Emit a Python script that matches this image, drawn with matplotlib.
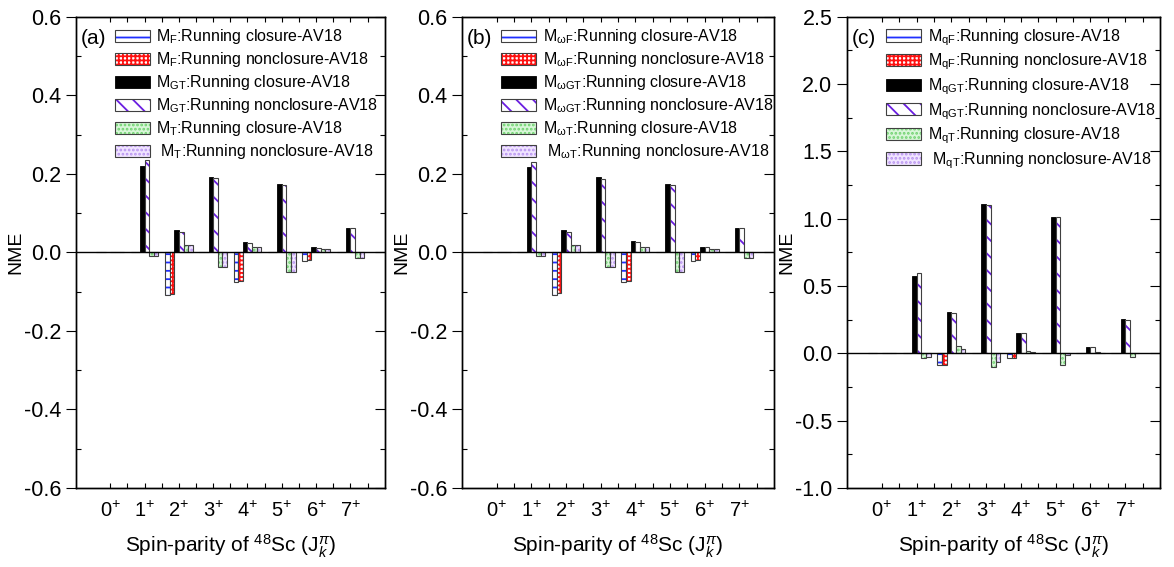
import numpy as np
import matplotlib
matplotlib.use("Agg")
import matplotlib.pyplot as plt
from matplotlib.patches import Patch
from matplotlib.ticker import MultipleLocator, FormatStrFormatter

plt.rcParams["font.family"] = ["Liberation Sans", "DejaVu Sans"]
plt.rcParams["mathtext.fontset"] = "custom"
plt.rcParams["mathtext.rm"] = "Liberation Sans"
plt.rcParams["mathtext.it"] = "Liberation Sans:italic"
plt.rcParams["mathtext.bf"] = "Liberation Sans:bold"
plt.rcParams["axes.unicode_minus"] = False
plt.rcParams["hatch.linewidth"] = 1.3

spins = ["0", "1", "2", "3", "4", "5", "6", "7"]

# panel (a): M_F, M_GT, M_T  (closure / nonclosure)
a_F_cl = [0, 0, -0.109, 0, -0.075, 0, -0.022, 0]
a_F_ncl = [0, 0, -0.105, 0, -0.074, 0, -0.019, 0]
a_GT_cl = [0, 0.221, 0.056, 0.193, 0.027, 0.174, 0.013, 0.061]
a_GT_ncl = [0, 0.235, 0.053, 0.189, 0.025, 0.172, 0.012, 0.061]
a_T_cl = [0, -0.010, 0.020, -0.037, 0.014, -0.049, 0.009, -0.015]
a_T_ncl = [0, -0.009, 0.020, -0.037, 0.014, -0.049, 0.008, -0.015]

# panel (b): M_wF, M_wGT, M_wT
b_F_cl = [0, 0, -0.109, 0, -0.075, 0, -0.021, 0]
b_F_ncl = [0, 0, -0.104, 0, -0.074, 0, -0.020, 0]
b_GT_cl = [0, 0.217, 0.056, 0.192, 0.028, 0.174, 0.014, 0.062]
b_GT_ncl = [0, 0.231, 0.051, 0.188, 0.026, 0.171, 0.013, 0.061]
b_T_cl = [0, -0.010, 0.020, -0.038, 0.015, -0.049, 0.010, -0.015]
b_T_ncl = [0, -0.008, 0.020, -0.038, 0.015, -0.049, 0.009, -0.015]

# panel (c): M_qF, M_qGT, M_qT
c_F_cl = [0, 0, -0.084, 0, -0.037, 0, 0, 0]
c_F_ncl = [0, 0, -0.084, 0, -0.037, 0, 0, 0]
c_GT_cl = [0, 0.577, 0.305, 1.111, 0.151, 1.015, 0.050, 0.255]
c_GT_ncl = [0, 0.599, 0.297, 1.106, 0.149, 1.010, 0.048, 0.250]
c_T_cl = [0, -0.037, 0.052, -0.104, 0.020, -0.084, 0.010, -0.025]
c_T_ncl = [0, -0.025, 0.033, -0.067, 0.008, -0.010, 0.005, 0.004]

subs_a = ["F", "GT", "T"]
subs_b = [r"\omega F", r"\omega GT", r"\omega T"]
subs_c = ["qF", "qGT", "qT"]

# facecolor, hatch colour, hatch
styles = [
    ("white", "#1f2fff", "--"),
    ("white", "#ff1010", "++++"),
    ("black", "black", None),
    ("white", "#6a1ee0", "\\\\"),
    ("#d8f6d8", "#6fd26f", "...."),
    ("#f0e4ff", "#b894f0", "...."),
]
outline = "#404040"
w = 0.135


def make_labels(subs):
    out = []
    for s in subs:
        for kind in ["closure", "nonclosure"]:
            out.append(r"$\mathrm{M_{%s}}$:Running %s-AV18" % (s, kind))
    out[-1] = " " + out[-1]
    return out


def panel(ax, series, subs, tag, ylim, major, minor):
    x = np.arange(len(spins))
    handles = []
    for i, vals in enumerate(series):
        fc, hc, h = styles[i]
        xi = x + (i - 2.5) * w
        if h is None:
            ax.bar(xi, vals, w, color="black", edgecolor="black", linewidth=0.6, zorder=2)
            handles.append(Patch(facecolor="black", edgecolor="black", linewidth=0.6))
        else:
            ax.bar(xi, vals, w, facecolor=fc, edgecolor=hc, hatch=h, linewidth=0, zorder=2)
            ax.bar(xi, vals, w, fill=False, edgecolor=outline, linewidth=0.8, zorder=2)
            handles.append((Patch(facecolor=fc, edgecolor=hc, hatch=h, linewidth=0),
                            Patch(fill=False, edgecolor=outline, linewidth=0.8)))
    ax.axhline(0, color="black", linewidth=1.0, zorder=3)
    ax.set_xlim(-1, 8)
    ax.set_ylim(*ylim)
    ax.set_xticks(x)
    ax.set_xticklabels([r"$%s^{+}$" % s for s in spins], fontsize=14.5)
    ax.set_xticks(x + 0.5, minor=True)
    ax.tick_params(axis="x", which="both", direction="in", length=3.5, top=True,
                   width=0.8, pad=9.5)
    ax.yaxis.set_major_locator(MultipleLocator(major))
    ax.yaxis.set_minor_locator(MultipleLocator(minor))
    ax.yaxis.set_major_formatter(FormatStrFormatter("%.1f"))
    ax.tick_params(axis="y", which="major", direction="out", length=7, labelsize=15.5, width=0.8)
    ax.tick_params(axis="y", which="minor", direction="in", length=3.5, width=0.8)
    tw = ax.twinx()
    tw.set_ylim(*ylim)
    tw.yaxis.set_major_locator(MultipleLocator(major))
    tw.yaxis.set_minor_locator(MultipleLocator(minor))
    tw.tick_params(axis="y", which="major", direction="in", length=7, labelright=False, width=0.8)
    tw.tick_params(axis="y", which="minor", direction="in", length=3.5, labelright=False, width=0.8)
    for a in (ax, tw):
        for sp in a.spines.values():
            sp.set_linewidth(1.0)
            sp.set_color("black")
    ax.set_ylabel("NME", fontsize=14, labelpad=0)
    ax.set_xlabel(r"Spin-parity of $^{48}$Sc ($\mathrm{J}^{\pi}_{k}$)", fontsize=15, labelpad=8)
    ax.text(0.016, 0.975, tag, transform=ax.transAxes, fontsize=15, va="top", ha="left")
    ax.legend(handles, make_labels(subs), loc="upper left",
              bbox_to_anchor=(0.125, 0.978), frameon=False, fontsize=11.5,
              handlelength=2.2, handleheight=0.8, labelspacing=0.25,
              handletextpad=0.4, borderpad=0.0, borderaxespad=0.0)


fig = plt.figure(figsize=(11.74, 5.67), dpi=100)
ax1 = fig.add_axes([0.0647, 0.1393, 0.263, 0.831])
ax2 = fig.add_axes([0.3935, 0.1393, 0.2658, 0.831])
ax3 = fig.add_axes([0.7215, 0.1393, 0.2666, 0.831])

panel(ax1, [a_F_cl, a_F_ncl, a_GT_cl, a_GT_ncl, a_T_cl, a_T_ncl], subs_a, "(a)", (-0.6, 0.6), 0.2, 0.1)
panel(ax2, [b_F_cl, b_F_ncl, b_GT_cl, b_GT_ncl, b_T_cl, b_T_ncl], subs_b, "(b)", (-0.6, 0.6), 0.2, 0.1)
panel(ax3, [c_F_cl, c_F_ncl, c_GT_cl, c_GT_ncl, c_T_cl, c_T_ncl], subs_c, "(c)", (-1.0, 2.5), 0.5, 0.25)

fig.savefig("out.png", dpi=100)
